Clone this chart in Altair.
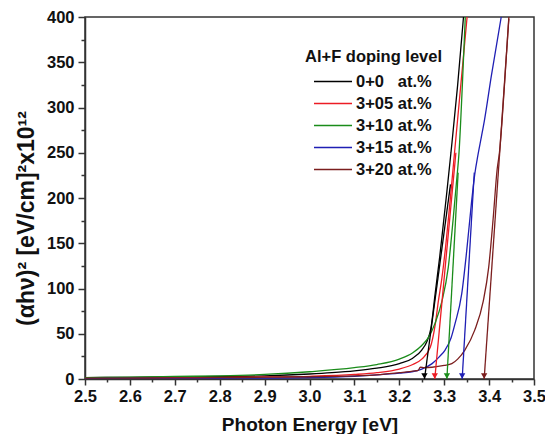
import altair as alt
import pandas as pd

# ---- data ----
series = ["0+0\u00a0\u00a0\u00a0at.%", "3+05 at.%", "3+10 at.%", "3+15 at.%", "3+20 at.%"]
colors = ["#000000", "#ec1c24", "#1a8c1a", "#1f1fb4", "#7b1e1e"]

x_00 = [2.50, 2.60, 2.70, 2.80, 2.90, 3.00, 3.05, 3.10, 3.15, 3.20, 3.23, 3.25, 3.262, 3.27, 3.28, 3.29, 3.30, 3.306, 3.315, 3.33, 3.343]
y_00 = [1.5, 1.8, 2.2, 2.8, 3.5, 5.5, 7, 9, 12, 17, 23, 32, 42, 55, 95, 135, 180, 207, 250, 325, 400]

x_05 = [2.50, 2.60, 2.70, 2.80, 2.90, 3.00, 3.10, 3.15, 3.20, 3.23, 3.25, 3.269, 3.28, 3.287, 3.295, 3.302, 3.313, 3.323, 3.337, 3.351]
y_05 = [1, 1.2, 1.5, 1.8, 2.2, 3, 5, 7, 11, 16, 22, 35, 60, 86, 112, 141, 196, 250, 325, 400]

x_10 = [2.50, 2.60, 2.70, 2.80, 2.90, 3.00, 3.10, 3.15, 3.20, 3.23, 3.25, 3.265, 3.28, 3.295, 3.309, 3.320, 3.328, 3.333, 3.340, 3.347]
y_10 = [1.5, 2, 2.8, 3.5, 5, 8, 12.5, 16, 22, 29, 37, 46, 62, 86, 123, 177, 221, 250, 320, 400]

x_15 = [2.50, 2.60, 2.70, 2.80, 2.90, 3.00, 3.10, 3.15, 3.20, 3.228, 3.25, 3.273, 3.29, 3.302, 3.315, 3.324, 3.339, 3.350, 3.361, 3.368, 3.375, 3.383, 3.39, 3.405, 3.427]
y_15 = [0.5, 0.6, 0.7, 0.8, 1, 1.5, 3, 4.5, 6.5, 8, 11, 17, 25, 32, 45, 61, 94, 141, 196, 226, 247, 268, 287, 335, 400]

x_20 = [2.50, 2.60, 2.70, 2.80, 2.90, 3.00, 3.10, 3.15, 3.20, 3.235, 3.242, 3.247, 3.255, 3.273, 3.30, 3.317, 3.33, 3.346, 3.368, 3.387, 3.399, 3.409, 3.418, 3.423, 3.434, 3.444]
y_20 = [1, 1, 1.2, 1.5, 2, 2.5, 3.5, 4.5, 7, 9, 9.5, 13, 12.5, 13, 15, 17, 22, 32, 54, 86, 123, 177, 232, 250, 323, 400]

# band-gap extrapolation (tangent) lines: start on the axis at gap energy
gap_energy = [3.256, 3.279, 3.306, 3.340, 3.389]
tangent_top_x = [3.314, 3.326, 3.331, 3.367, 3.444]
tangent_top_y = [215, 250, 228, 228, 398]

x_ticks = [2.5, 2.6, 2.7, 2.8, 2.9, 3.0, 3.1, 3.2, 3.3, 3.4, 3.5]
x_minor = [2.55, 2.65, 2.75, 2.85, 2.95, 3.05, 3.15, 3.25, 3.35, 3.45]
y_ticks = [0, 50, 100, 150, 200, 250, 300, 350, 400]
y_minor = [25, 75, 125, 175, 225, 275, 325, 375]

# ---- tables ----
curve_x = [x_00, x_05, x_10, x_15, x_20]
curve_y = [y_00, y_05, y_10, y_15, y_20]
rows = []
for name, xs, ys in zip(series, curve_x, curve_y):
    for i, (xv, yv) in enumerate(zip(xs, ys)):
        rows.append({"series": name, "E": xv, "A": yv, "order": i})
curve_df = pd.DataFrame(rows)

trows = []
for name, g, tx, ty in zip(series, gap_energy, tangent_top_x, tangent_top_y):
    trows.append({"series": name, "E": g, "A": 0, "order": 0})
    trows.append({"series": name, "E": tx, "A": ty, "order": 1})
tan_df = pd.DataFrame(trows)

arrow_df = pd.DataFrame({"series": series, "E": gap_energy, "A": [0] * len(series)})

FONT = "Liberation Sans"
AX = "#333333"

xscale = alt.Scale(domain=[2.5, 3.5], nice=False, zero=False)
yscale = alt.Scale(domain=[0, 400], nice=False)
cscale = alt.Scale(domain=series, range=colors)

x_major_axis = alt.Axis(
    values=x_ticks, format=".1f", title="Photon Energy [eV]", grid=False,
    tickSize=6, tickWidth=1.5, tickColor=AX, domainColor=AX, domainWidth=1.5,
    labelFont=FONT, labelFontSize=16.5, labelFontWeight="bold", labelColor="#111",
    labelPadding=3, labelFlush=False,
    titleFont=FONT, titleFontSize=19, titleFontWeight="bold", titleColor="#111",
    titleBaseline="alphabetic", titleY=51,
)
y_major_axis = alt.Axis(
    values=y_ticks, title="(αhν)² [eV/cm]²x10¹²", grid=False,
    tickSize=7, tickWidth=1.5, tickColor=AX, domainColor=AX, domainWidth=1.5,
    labelFont=FONT, labelFontSize=16.5, labelFontWeight="bold", labelColor="#111",
    labelPadding=4, labelFlush=False,
    titleFont=FONT, titleFontSize=23, titleFontWeight="bold", titleColor="#111",
    titleX=-59, titleY=201, titleBaseline="middle", titleAngle=270,
)
x_minor_axis = alt.Axis(
    values=x_minor, labels=False, title=None, grid=False, domain=False,
    tickSize=3, tickWidth=1.5, tickColor=AX, orient="bottom",
)
y_minor_axis = alt.Axis(
    values=y_minor, labels=False, title=None, grid=False, domain=False,
    tickSize=4, tickWidth=1.5, tickColor=AX, orient="left",
)

legend = alt.Legend(
    title="Al+F doping level", orient="none", legendX=220, legendY=32, padding=0,
    titleFont=FONT, titleFontSize=16.5, titleFontWeight="bold", titleColor="#111",
    titlePadding=8,
    labelFont=FONT, labelFontSize=16.5, labelFontWeight="bold", labelColor="#111",
    symbolType="stroke", symbolSize=1444, symbolStrokeWidth=1.5,
    symbolOffset=8, labelOffset=3, clipHeight=16, rowPadding=5,
)

curves = alt.Chart(curve_df).mark_line(strokeWidth=1.3, clip=True, interpolate="monotone").encode(
    x=alt.X("E:Q", scale=xscale, axis=x_major_axis),
    y=alt.Y("A:Q", scale=yscale, axis=y_major_axis),
    color=alt.Color("series:N", scale=cscale, sort=series, legend=legend),
    order="order:Q",
)

tangents = alt.Chart(tan_df).mark_line(strokeWidth=1.3, clip=True).encode(
    x=alt.X("E:Q", scale=xscale, axis=None),
    y=alt.Y("A:Q", scale=yscale, axis=None),
    color=alt.Color("series:N", scale=cscale, sort=series, legend=None),
    detail="series:N",
    order="order:Q",
)

arrows = alt.Chart(arrow_df).mark_point(
    shape="triangle-down", filled=True, size=40, yOffset=-3, opacity=1
).encode(
    x=alt.X("E:Q", scale=xscale, axis=x_minor_axis),
    y=alt.Y("A:Q", scale=yscale, axis=y_minor_axis),
    color=alt.Color("series:N", scale=cscale, sort=series, legend=None),
)

chart = (
    alt.layer(curves, tangents, arrows)
    .resolve_axis(x="independent", y="independent")
    .properties(
        width=449, height=362,
        padding={"left": 77, "top": 9, "right": 11, "bottom": 55},
        autosize=alt.AutoSizeParams(type="none"),
        background="white",
    )
    .configure_view(stroke=AX, strokeWidth=1.5)
)

chart.save("out.html", embed_options={"renderer": "svg", "actions": False})
